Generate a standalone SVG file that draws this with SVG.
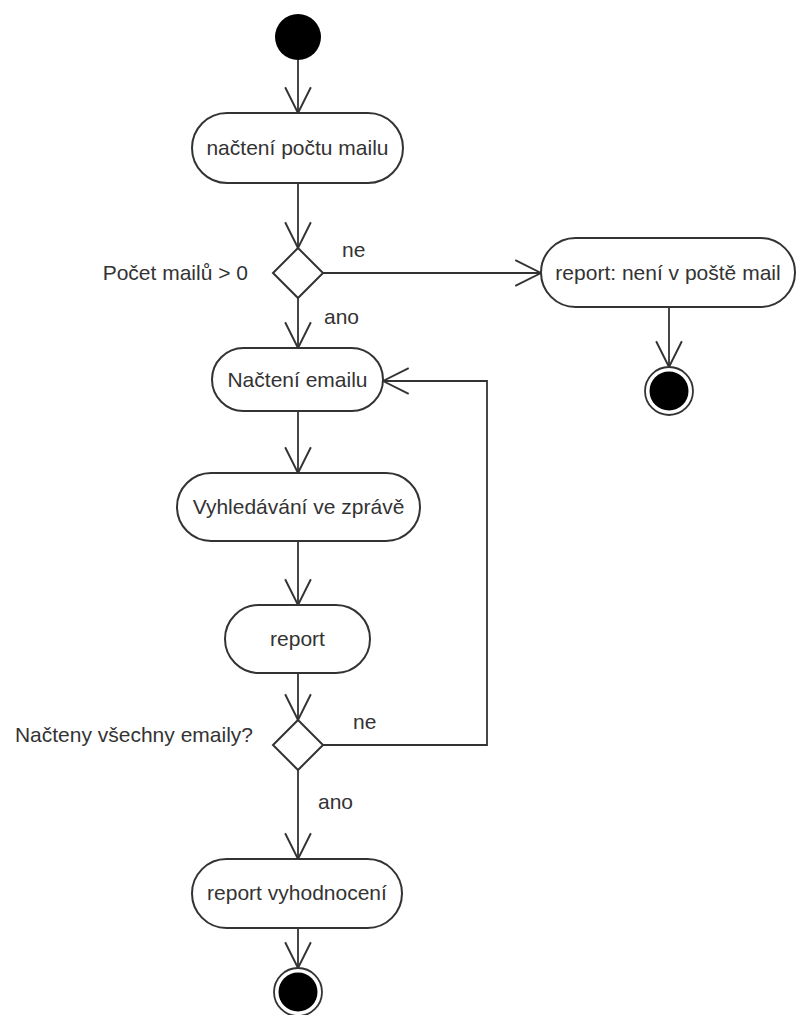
<svg xmlns="http://www.w3.org/2000/svg" width="797" height="1015" viewBox="0 0 797 1015">
<defs>
<style>
.node{fill:#fff;stroke:#333;stroke-width:2}
.edge{fill:none;stroke:#333;stroke-width:1.8}
text{font-family:"Liberation Sans",Arial,sans-serif;font-size:21px;fill:#333}
.c{text-anchor:middle}
.r{text-anchor:end}
</style>
<marker id="arr" markerUnits="userSpaceOnUse" markerWidth="30" markerHeight="30" viewBox="-26 -14 28 28" refX="0" refY="0" orient="auto">
<path d="M-24,-12 L0,0 L-24,12" fill="none" stroke="#333" stroke-width="1.8"/>
</marker>
</defs>
<rect width="797" height="1015" fill="#fff"/>
<g id="connectors">
<line class="edge" x1="298" y1="60" x2="298" y2="113" marker-end="url(#arr)"/>
<line class="edge" x1="298" y1="183" x2="298" y2="248" marker-end="url(#arr)"/>
<line class="edge" x1="298" y1="298" x2="298" y2="348" marker-end="url(#arr)"/>
<line class="edge" x1="323" y1="273" x2="541" y2="273" marker-end="url(#arr)"/>
<line class="edge" x1="669" y1="307" x2="669" y2="367" marker-end="url(#arr)"/>
<line class="edge" x1="298" y1="410" x2="298" y2="473" marker-end="url(#arr)"/>
<line class="edge" x1="298" y1="541" x2="298" y2="605" marker-end="url(#arr)"/>
<line class="edge" x1="298" y1="673" x2="298" y2="720" marker-end="url(#arr)"/>
<polyline class="edge" points="323,745 487,745 487,381 383,381" marker-end="url(#arr)"/>
<line class="edge" x1="298" y1="770" x2="298" y2="859" marker-end="url(#arr)"/>
<line class="edge" x1="298" y1="928" x2="298" y2="968" marker-end="url(#arr)"/>
<text x="342" y="257">ne</text>
<text x="324" y="324">ano</text>
<text x="353" y="729">ne</text>
<text x="318" y="809">ano</text>
</g>
<g id="start"><circle cx="298" cy="37" r="23" fill="#000"/></g>
<g id="n1"><rect class="node" x="192" y="113" width="211" height="70" rx="35"/><text class="c" x="297.5" y="155">načtení počtu mailu</text></g>
<g id="d1"><polygon class="node" points="298,248 323,273 298,298 273,273"/><text class="r" x="248" y="280">Počet mailů &gt; 0</text></g>
<g id="n_empty"><rect class="node" x="541" y="238" width="254" height="69" rx="34.5"/><text class="c" x="668" y="280">report: není v poště mail</text></g>
<g id="end1"><circle cx="669" cy="391" r="24" fill="#fff" stroke="#333" stroke-width="1.8"/><circle cx="669" cy="391" r="19.5" fill="#000"/></g>
<g id="n2"><rect class="node" x="212" y="348" width="171" height="63" rx="31.5"/><text class="c" x="297.5" y="387">Načtení emailu</text></g>
<g id="n3"><rect class="node" x="177" y="473" width="243" height="68" rx="34"/><text class="c" x="298.5" y="514">Vyhledávání ve zprávě</text></g>
<g id="n4"><rect class="node" x="225" y="605" width="145" height="68" rx="34"/><text class="c" x="297.5" y="646">report</text></g>
<g id="d2"><polygon class="node" points="298,720 323,745 298,770 273,745"/><text class="r" x="253" y="742">Načteny všechny emaily?</text></g>
<g id="n5"><rect class="node" x="192" y="859" width="210" height="69" rx="34.5"/><text class="c" x="297" y="900">report vyhodnocení</text></g>
<g id="end2"><circle cx="298" cy="992" r="24" fill="#fff" stroke="#333" stroke-width="1.8"/><circle cx="298" cy="992" r="19.5" fill="#000"/></g>
</svg>
